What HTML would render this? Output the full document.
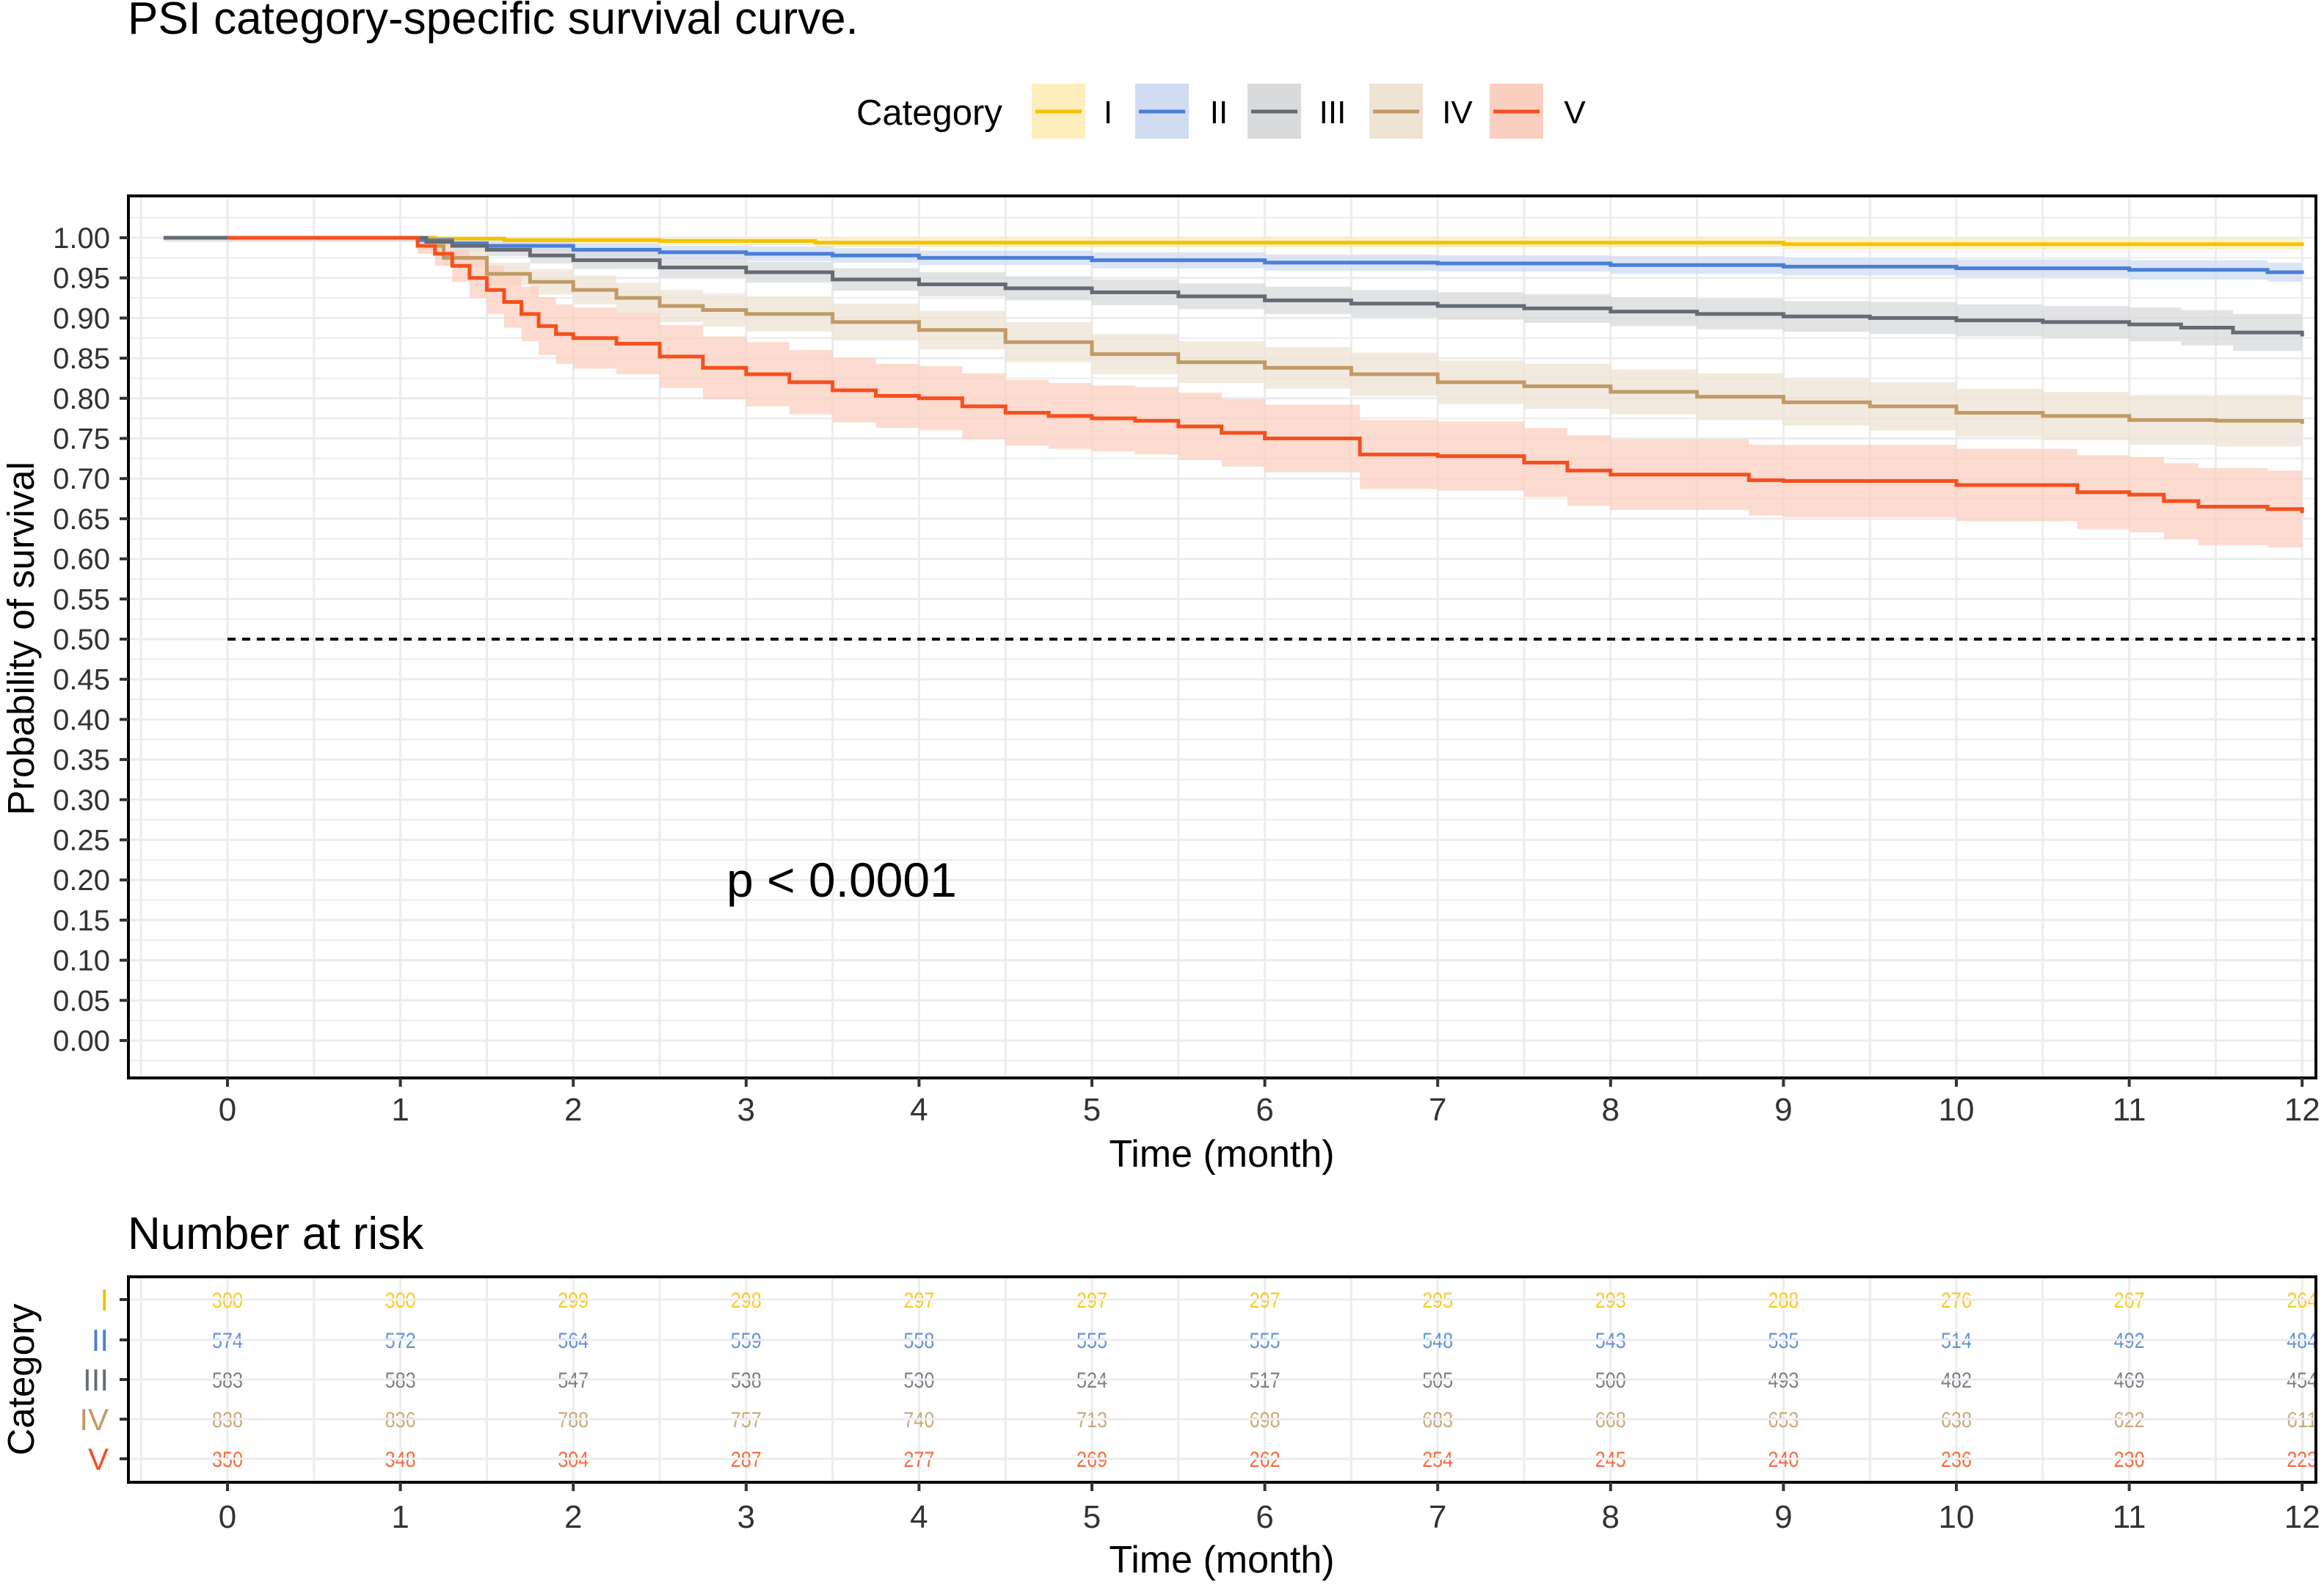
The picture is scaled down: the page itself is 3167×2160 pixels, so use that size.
<!DOCTYPE html>
<html><head><meta charset="utf-8"><style>
html,body{margin:0;padding:0;background:#fff}
svg{display:block}
text{font-family:"Liberation Sans",sans-serif}
</style></head><body>
<svg id="chart" width="3167" height="2160" viewBox="0 0 3167 2160" xmlns="http://www.w3.org/2000/svg">
<defs><clipPath id="mainclip"><rect x="175" y="267" width="2981" height="1202"/></clipPath>
<clipPath id="riskclip"><rect x="175" y="1740" width="2981" height="280"/></clipPath></defs>
<text x="174" y="46" font-size="62" fill="#000">PSI category-specific survival curve.</text>
<g id="legend"></g>
<g id="main"></g>
<text x="174" y="1702" font-size="62" fill="#000">Number at risk</text>
<g id="risk"></g>
</svg>
<script>
// ---- data ----
const categories = ["I","II","III","IV","V"];
const colors = ["#f5c200","#4a7fd6","#646b72","#c19a66","#f4501e"];
const fills  = ["#fdeebb","#cfdcf2","#d8dadc","#efe3d4","#fbcfc0"];
const yTicks = [0,0.05,0.10,0.15,0.20,0.25,0.30,0.35,0.40,0.45,0.50,0.55,0.60,0.65,0.70,0.75,0.80,0.85,0.90,0.95,1.00];
const xTicks = [0,1,2,3,4,5,6,7,8,9,10,11,12];
const timesI = [0,1,1.2,1.6,2.5,3.4,9,12];
const survI  = [1,1,0.999,0.997,0.996,0.994,0.992,0.99];
const ciI    = [0.003,0.003,0.003,0.004,0.005,0.006,0.007,0.008];
const timesII = [0,1,1.1,1.3,1.5,2,2.5,3,3.5,4,5,6,7,8,9,10,11,11.8,12];
const survII  = [1,1,0.997,0.993,0.99,0.985,0.982,0.98,0.978,0.975,0.972,0.969,0.968,0.966,0.964,0.962,0.96,0.957,0.955];
const ciII    = [0.005,0.005,0.005,0.006,0.007,0.008,0.008,0.009,0.009,0.009,0.01,0.01,0.01,0.011,0.011,0.011,0.012,0.012,0.013];
const timesIII = [-0.37,1,1.15,1.3,1.5,1.75,2,2.5,3,3.5,4,4.5,5,5.5,6,6.5,7,7.5,8,8.5,9,9.5,10,10.5,11,11.3,11.6,12];
const survIII  = [1,1,0.995,0.99,0.985,0.978,0.972,0.963,0.957,0.948,0.942,0.937,0.932,0.927,0.922,0.918,0.915,0.912,0.908,0.905,0.902,0.9,0.897,0.895,0.892,0.888,0.882,0.877];
const ciIII    = [0.005,0.005,0.005,0.007,0.008,0.01,0.011,0.012,0.013,0.014,0.015,0.015,0.016,0.016,0.017,0.017,0.017,0.018,0.018,0.019,0.019,0.02,0.02,0.02,0.021,0.022,0.023,0.025];
const timesIV = [0,1,1.1,1.25,1.5,1.75,2,2.25,2.5,2.75,3,3.5,4,4.5,5,5.5,6,6.5,7,7.5,8,8.5,9,9.5,10,10.5,11,11.5,12];
const survIV  = [1,1,0.99,0.975,0.955,0.945,0.935,0.925,0.915,0.91,0.905,0.895,0.885,0.87,0.855,0.845,0.838,0.83,0.82,0.815,0.808,0.802,0.795,0.79,0.782,0.778,0.773,0.772,0.768];
const ciIV    = [0,0,0.006,0.01,0.014,0.016,0.018,0.019,0.02,0.021,0.022,0.023,0.024,0.025,0.025,0.026,0.026,0.027,0.027,0.028,0.028,0.029,0.029,0.03,0.03,0.03,0.031,0.032,0.034];
const timesV = [0,1,1.1,1.2,1.3,1.4,1.5,1.6,1.7,1.8,1.9,2,2.25,2.5,2.75,3,3.25,3.5,3.75,4,4.25,4.5,4.75,5,5.25,5.5,5.75,6,6.55,7,7.5,7.75,8,8.8,9,10,10.7,11,11.2,11.4,11.8,12];
const survV  = [1,1,0.99,0.98,0.965,0.95,0.935,0.92,0.905,0.89,0.88,0.875,0.868,0.852,0.838,0.83,0.82,0.81,0.803,0.8,0.79,0.782,0.778,0.775,0.772,0.765,0.757,0.75,0.73,0.728,0.72,0.71,0.705,0.698,0.697,0.692,0.683,0.68,0.672,0.665,0.662,0.657];
const ciV    = [0,0,0.01,0.015,0.02,0.025,0.03,0.032,0.034,0.036,0.037,0.038,0.038,0.039,0.039,0.04,0.04,0.04,0.04,0.04,0.041,0.041,0.041,0.041,0.042,0.042,0.042,0.042,0.043,0.043,0.043,0.044,0.044,0.044,0.045,0.045,0.046,0.047,0.047,0.048,0.048,0.05];
const series = [
 {t:timesI,s:survI,c:ciI},{t:timesII,s:survII,c:ciII},
 {t:timesIII,s:survIII,c:ciIII},{t:timesIV,s:survIV,c:ciIV},
 {t:timesV,s:survV,c:ciV}];
const riskI   = [300,300,299,298,297,297,297,295,293,288,276,267,264];
const riskII  = [574,572,564,559,558,555,555,548,543,535,514,492,484];
const riskIII = [583,583,547,538,530,524,517,505,500,493,482,469,454];
const riskIV  = [838,836,788,757,740,713,698,683,668,653,638,622,611];
const riskV   = [350,348,304,287,277,269,262,254,245,240,236,230,223];
const riskRows = [riskI,riskII,riskIII,riskIV,riskV];
const medianLine = 0.5;
const pLabel = "p < 0.0001";

// ---- scales ----
const X0=310, DX=235.6;
const xs = m => X0 + m*DX;
const ys = v => 1418 - v*(1418-324);
const NS="http://www.w3.org/2000/svg";
function mk(tag, attrs, parent){const e=document.createElementNS(NS,tag);for(const k in attrs)e.setAttribute(k,attrs[k]);parent.appendChild(e);return e;}

const main=document.getElementById('main');
for(let v=-0.025; v<=1.05; v+=0.025){
  const y=ys(v); if(y<268||y>1468) continue;
  const g=mk('line',{x1:175,x2:3156,y1:y,y2:y,stroke:'#ececec','stroke-width':Math.abs(Math.round(v*40)%2)===0?3:2},main);
  
  
}
for(let m=-0.5; m<=12.01; m+=0.5){
  const g=mk('line',{x1:xs(m),x2:xs(m),y1:268,y2:1468,stroke:'#ececec','stroke-width':3},main);
  
  
}
const cg=mk('g',{'clip-path':'url(#mainclip)'},main);
function stepPts(t,v){let p=[];for(let i=0;i<t.length;i++){if(i>0)p.push([xs(t[i]),ys(v[i-1])]);p.push([xs(t[i]),ys(v[i])]);}return p;}
series.forEach((s,i)=>{
  const hi=s.s.map((v,k)=>Math.min(1,v+s.c[k])), lo=s.s.map((v,k)=>v-s.c[k]);
  const up=stepPts(s.t,hi), dn=stepPts(s.t,lo).reverse();
  const band=mk('polygon',{points:up.concat(dn).map(p=>p.join(',')).join(' '),fill:fills[i],'fill-opacity':0.75},cg);
  
  
});
series.forEach((s,i)=>{
  const pts=stepPts(s.t,s.s);
  const l=mk('polyline',{points:pts.map(p=>p.join(',')).join(' '),fill:'none',stroke:colors[i],'stroke-width':5},cg);
  
  
});
const md=mk('line',{x1:xs(0),x2:3156,y1:ys(medianLine),y2:ys(medianLine),stroke:'#000','stroke-width':4,'stroke-dasharray':'11,9'},main);


const pv=mk('text',{x:990,y:1222,'font-size':66,fill:'#000'},main); pv.textContent=pLabel;


const fr=mk('rect',{x:175,y:267,width:2981,height:1202,fill:'none',stroke:'#000','stroke-width':4},main);


yTicks.forEach(v=>{
  const y=ys(v);
  const tk=mk('line',{x1:163,x2:175,y1:y,y2:y,stroke:'#333','stroke-width':4},main);
  
  
  const t=mk('text',{x:150,y:y+14,'font-size':40,fill:'#333','text-anchor':'end'},main); t.textContent=v.toFixed(2);
  
  
});
function xAxis(parent,yb,ylab,ytitle){
  xTicks.forEach(m=>{
    const tk=mk('line',{x1:xs(m),x2:xs(m),y1:yb,y2:yb+12,stroke:'#333','stroke-width':4},parent);
    
    
    const t=mk('text',{x:xs(m),y:ylab,'font-size':44,fill:'#333','text-anchor':'middle'},parent); t.textContent=m;
    
    
  });
  const tt=mk('text',{x:1665,y:ytitle,'font-size':52,fill:'#000','text-anchor':'middle'},parent); tt.textContent='Time (month)';
  
  
}
xAxis(main,1469,1527,1590);
const yt=mk('text',{x:0,y:0,'font-size':51,fill:'#000','text-anchor':'middle',transform:'translate(46,870) rotate(-90)'},main); yt.textContent='Probability of survival';



// legend
const lg=document.getElementById('legend');
const lt=mk('text',{x:1167,y:170,'font-size':49,fill:'#000'},lg); lt.textContent='Category';


const boxX=[1406,1547,1700,1866,2030], labX=[1510,1661,1816,1986,2146];
categories.forEach((c,i)=>{
  const b=mk('rect',{x:boxX[i],y:114,width:73,height:75,fill:fills[i]},lg);
  
  
  mk('line',{x1:boxX[i]+5,x2:boxX[i]+68,y1:152,y2:152,stroke:colors[i],'stroke-width':5},lg);
  const t=mk('text',{x:labX[i],y:168,'font-size':44,fill:'#000','text-anchor':'middle'},lg); t.textContent=c;
  
  
});

// risk table
const rk=document.getElementById('risk');
const rowY=[1771,1826,1880,1934,1988];
for(let m=-0.5;m<=12.01;m+=0.5){
  const g=mk('line',{x1:xs(m),x2:xs(m),y1:1740,y2:2020,stroke:'#ececec','stroke-width':3},rk);
  
  
}
const rcg=mk('g',{'clip-path':'url(#riskclip)'},rk);
riskRows.forEach((row,i)=>{
  mk('line',{x1:175,x2:3156,y1:rowY[i],y2:rowY[i],stroke:'#ececec','stroke-width':3},rk);
  row.forEach((n,j)=>{
    const t=mk('text',{x:xs(xTicks[j]),y:rowY[i]+11,'font-size':30,fill:colors[i],'fill-opacity':0.85,'text-anchor':'middle',textLength:42,lengthAdjust:'spacingAndGlyphs'},rcg);
    t.textContent=n;
    
    
  });
  const tk=mk('line',{x1:163,x2:175,y1:rowY[i],y2:rowY[i],stroke:'#333','stroke-width':4},rk);
  
  
  const l=mk('text',{x:148,y:rowY[i]+15,'font-size':42,fill:colors[i],'text-anchor':'end'},rk); l.textContent=categories[i];
  
  
});
const rf=mk('rect',{x:175,y:1740,width:2981,height:280,fill:'none',stroke:'#000','stroke-width':4},rk);


xAxis(rk,2020,2082,2143);
const ct=mk('text',{x:0,y:0,'font-size':51,fill:'#000','text-anchor':'middle',transform:'translate(46,1880) rotate(-90)'},rk); ct.textContent='Category';


</script>
</body></html>
